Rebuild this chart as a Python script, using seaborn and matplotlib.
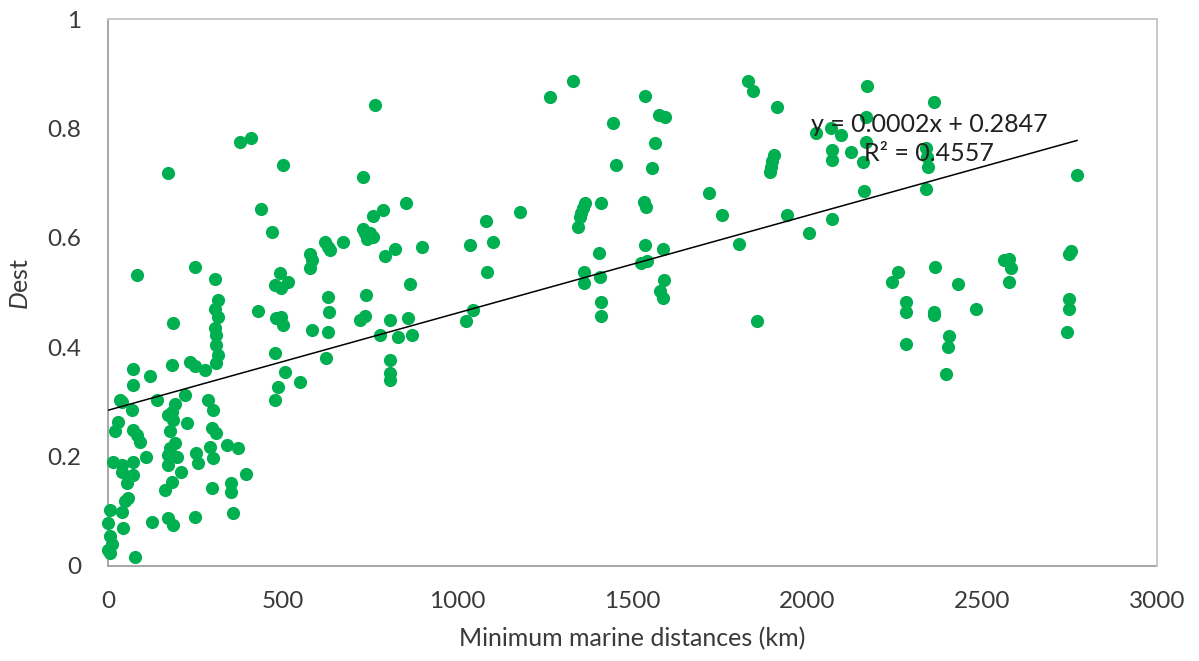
import matplotlib
matplotlib.use("Agg")
import matplotlib.pyplot as plt
import seaborn as sns
import numpy as np
import pandas as pd

# Minimum marine distance (km) and Dest value for each population pair
distance_km = [
    1, 6, 6, 11, 1, 6, 77, 44, 39, 58, 49, 53, 72, 72, 39, 39, 15, 20, 30, 72,
    82, 91, 34, 39, 68, 72, 72, 82, 110, 120, 125, 139,
    172, 186, 182, 191, 182, 172, 186, 177, 191, 177, 172, 196, 172, 182, 163,
    172, 186, 210, 220, 225,
    234, 249, 277, 249, 253, 258, 249,
    306, 315, 306, 315, 306, 310, 310, 315, 310,
    287, 301, 296, 310, 291, 301, 296, 339, 372, 396, 353, 353, 358,
    377, 410, 501, 437, 468, 430, 480, 496, 501, 491, 515, 477, 496,
    477, 506, 487, 477, 549,
    577, 582, 577, 620, 634, 629, 672, 630, 632, 582, 630, 623,
    763, 728, 853, 787, 758, 730, 735, 740, 758, 750, 791, 821, 898, 739, 720,
    734, 806, 777, 830, 858, 868, 863, 806, 806, 806,
    1025, 1044, 1034, 1100, 1080, 1084, 1177,
    1263, 1331, 1444, 1454, 1363, 1358, 1353, 1350, 1344, 1409, 1404, 1360,
    1360, 1406, 1409, 1409,
    1536, 1577, 1594, 1565, 1556, 1534, 1540, 1535, 1586, 1525, 1541, 1591,
    1580, 1587,
    1720, 1755, 1806, 1857, 1830, 1846, 1914, 1906, 1900, 1896, 1893, 1942,
    2006, 2024, 2067, 2096, 2071, 2071, 2125, 2070, 2167, 2167, 2158, 2161, 2172,
    2339, 2342, 2344, 2339, 2362,
    2258, 2242, 2366, 2432, 2282, 2282, 2363, 2363, 2482, 2282, 2406, 2401, 2396,
    2577, 2563, 2582, 2577, 2753, 2749, 2749, 2749, 2744, 2772,
]
dest = [
    0.078, 0.102, 0.054, 0.041, 0.029, 0.023, 0.017, 0.069, 0.099, 0.124, 0.118,
    0.151, 0.166, 0.191, 0.185, 0.172, 0.191, 0.246, 0.264, 0.249,
    0.240, 0.227, 0.303, 0.300, 0.285, 0.361, 0.331, 0.532, 0.200, 0.347, 0.081, 0.303,
    0.718, 0.444, 0.367, 0.297, 0.282, 0.276, 0.267, 0.246, 0.224, 0.215, 0.203,
    0.200, 0.185, 0.154, 0.139, 0.087, 0.075, 0.172, 0.313, 0.261,
    0.373, 0.365, 0.358, 0.547, 0.206, 0.188, 0.090,
    0.524, 0.486, 0.470, 0.455, 0.435, 0.422, 0.404, 0.386, 0.371,
    0.303, 0.285, 0.252, 0.243, 0.218, 0.197, 0.142, 0.221, 0.215, 0.169, 0.151,
    0.136, 0.096,
    0.776, 0.782, 0.733, 0.653, 0.611, 0.466, 0.453, 0.456, 0.441, 0.535, 0.520,
    0.514, 0.508,
    0.389, 0.355, 0.328, 0.303, 0.337,
    0.571, 0.560, 0.544, 0.593, 0.578, 0.584, 0.592, 0.492, 0.465, 0.431, 0.428, 0.380,
    0.843, 0.712, 0.663, 0.651, 0.640, 0.617, 0.608, 0.597, 0.602, 0.608, 0.567,
    0.580, 0.584, 0.495, 0.450,
    0.457, 0.450, 0.422, 0.419, 0.453, 0.422, 0.515, 0.377, 0.352, 0.340,
    0.447, 0.468, 0.586, 0.592, 0.631, 0.537, 0.648,
    0.857, 0.887, 0.810, 0.733, 0.664, 0.655, 0.645, 0.638, 0.619, 0.663, 0.573,
    0.538, 0.518, 0.528, 0.483, 0.457,
    0.860, 0.825, 0.821, 0.773, 0.727, 0.666, 0.657, 0.586, 0.580, 0.554, 0.557,
    0.522, 0.502, 0.490,
    0.682, 0.641, 0.589, 0.448, 0.886, 0.868, 0.840, 0.751, 0.740, 0.730, 0.720, 0.641,
    0.609, 0.791, 0.800, 0.788, 0.760, 0.742, 0.756, 0.634, 0.820, 0.776, 0.739,
    0.686, 0.877,
    0.764, 0.748, 0.730, 0.690, 0.848,
    0.538, 0.520, 0.547, 0.516, 0.483, 0.464, 0.464, 0.458, 0.470, 0.405, 0.420,
    0.400, 0.351,
    0.562, 0.559, 0.544, 0.520, 0.575, 0.570, 0.489, 0.469, 0.427, 0.714,
]

# Linear trendline as reported on the chart (slope)
trend_intercept = 0.2847
trend_slope = 0.000178

x_ticks = [0, 500, 1000, 1500, 2000, 2500, 3000]
y_ticks = [0, 0.2, 0.4, 0.6, 0.8, 1]
y_tick_labels = ["0", "0.2", "0.4", "0.6", "0.8", "1"]
x_label = "Minimum marine distances (km)"
y_label = r"$D$est"
eq_text = "y = 0.0002x + 0.2847"
r2_text = "R² = 0.4557"

df = pd.DataFrame({"distance": distance_km, "dest": dest})
trend_x = np.array([min(distance_km), max(distance_km)], dtype=float)
trend_df = pd.DataFrame({"distance": trend_x,
                         "dest": trend_intercept + trend_slope * trend_x})

sns.set_theme(style="white")
plt.rcParams["font.family"] = ["Lato", "DejaVu Sans"]
plt.rcParams["mathtext.fontset"] = "custom"
plt.rcParams["mathtext.it"] = "Lato:italic"
plt.rcParams["mathtext.rm"] = "Lato"

fig = plt.figure(figsize=(11.99, 6.61), dpi=100)
ax = fig.add_axes([108 / 1199, 95 / 661, 1049 / 1199, 547 / 661])

green = "#00b050"
text_color = "#3a3a3a"

sns.scatterplot(data=df, x="distance", y="dest", ax=ax, color=green,
                s=90, linewidth=0, zorder=2, clip_on=False)
sns.lineplot(data=trend_df, x="distance", y="dest", ax=ax, color="black",
             linewidth=1.1, zorder=3)

ax.set_xlim(0, 3000)
ax.set_ylim(0, 1)
ax.set_xticks(x_ticks)
ax.set_xticklabels([str(t) for t in x_ticks])
ax.set_yticks(y_ticks)
ax.set_yticklabels(y_tick_labels)

ax.tick_params(axis="both", which="major", direction="out", length=7,
               width=1, color="#a6a6a6", labelsize=17.5, labelcolor=text_color)
ax.tick_params(axis="y", pad=12)
ax.tick_params(axis="x", pad=11)

for side in ["left", "bottom"]:
    ax.spines[side].set_color("#a6a6a6")
    ax.spines[side].set_linewidth(1.4)
    ax.spines[side].set_zorder(1)
for side in ["top", "right"]:
    ax.spines[side].set_color("#c8c8c8")
    ax.spines[side].set_linewidth(1.4)

ax.set_xlabel(x_label, fontsize=18, color=text_color, labelpad=11)
ax.set_ylabel(y_label, fontsize=18, color=text_color)
ax.yaxis.set_label_coords(-0.072, 0.515)

ax.text(2349, 0.808, eq_text, ha="center", va="center", fontsize=18,
        color="#202020", zorder=4)
ax.text(2349, 0.755, r2_text, ha="center", va="center", fontsize=18,
        color="#202020", zorder=4)

fig.savefig("out.png", dpi=100, facecolor="white")
